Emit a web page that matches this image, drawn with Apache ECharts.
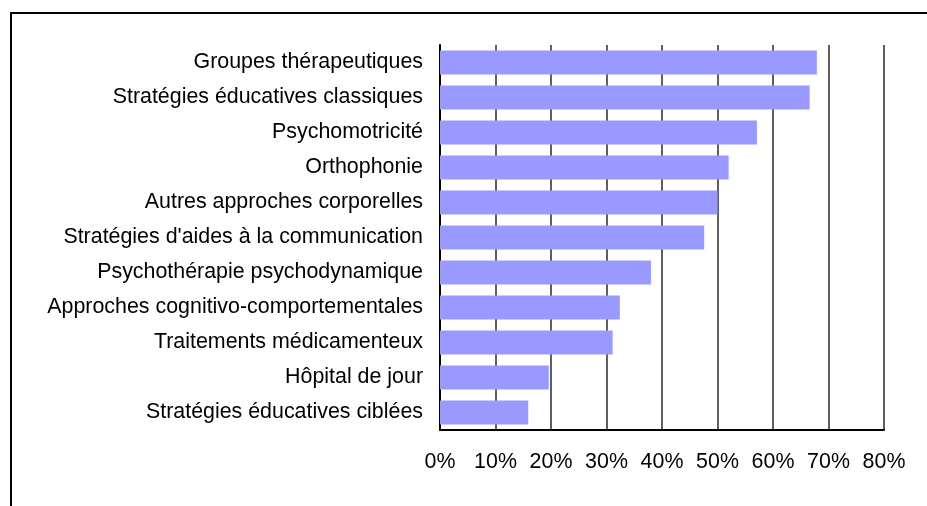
<!DOCTYPE html>
<html>
<head>
<meta charset="utf-8">
<script src="https://cdn.jsdelivr.net/npm/echarts@6/dist/echarts.min.js"></script>
<style>
html,body{margin:0;padding:0;background:#fff;}
#chart{width:927px;height:506px;}
</style>
</head>
<body>
<div id="chart"></div>
<script>
var categories = [
  "Groupes thérapeutiques",
  "Stratégies éducatives classiques",
  "Psychomotricité",
  "Orthophonie",
  "Autres approches corporelles",
  "Stratégies d'aides à la communication",
  "Psychothérapie psychodynamique",
  "Approches cognitivo-comportementales",
  "Traitements médicamenteux",
  "Hôpital de jour",
  "Stratégies éducatives ciblées"
];
var values = [67.9, 66.6, 57.1, 52.0, 50.0, 47.6, 38.0, 32.4, 31.1, 19.6, 15.9];
var xMin = 0, xMax = 80, xStep = 10;

var chart = echarts.init(document.getElementById('chart'), null, {renderer: 'canvas'});
var font = 'Arial, "Liberation Sans", sans-serif';
chart.setOption({
  animation: false,
  backgroundColor: '#fff',
  graphic: [{
    type: 'rect',
    shape: {x: 11, y: 13, width: 1000, height: 1000},
    style: {fill: 'none', stroke: '#000', lineWidth: 2},
    z: -1
  }],
  grid: {left: 440, right: 43, top: 45, bottom: 76, containLabel: false},
  xAxis: {
    type: 'value',
    min: xMin, max: xMax, interval: xStep,
    axisLine: {show: true, lineStyle: {color: '#000', width: 2}},
    axisTick: {show: false},
    splitLine: {show: true, lineStyle: {color: '#5e5e5e', width: 2}},
    axisLabel: {
      formatter: function (v) { return v + '%'; },
      color: '#000', fontFamily: font, fontSize: 21.4, margin: 22
    }
  },
  yAxis: {
    type: 'category',
    data: categories,
    inverse: true,
    axisLine: {show: true, lineStyle: {color: '#000', width: 2}},
    axisTick: {show: false},
    axisLabel: {color: '#000', fontFamily: font, fontSize: 21.4, margin: 17}
  },
  series: [{
    type: 'bar',
    data: values,
    barCategoryGap: '31%',
    itemStyle: {color: '#9999FF'}
  }]
});
</script>
</body>
</html>
